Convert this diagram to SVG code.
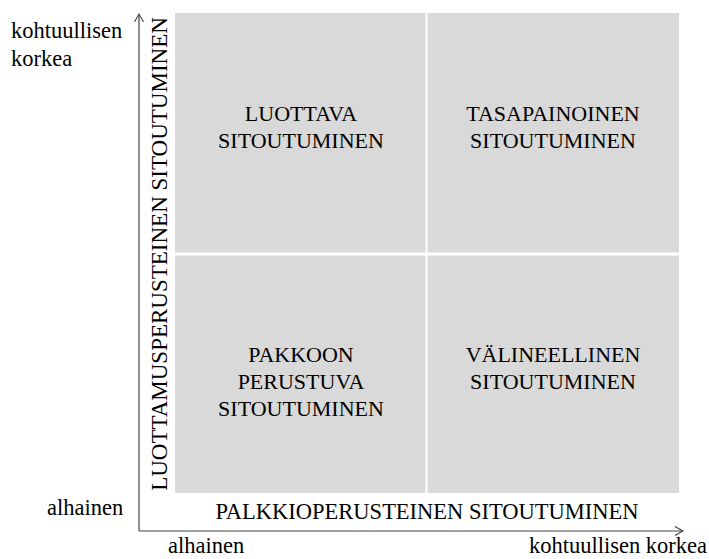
<svg xmlns="http://www.w3.org/2000/svg" width="709" height="559" viewBox="0 0 709 559">
  <defs>
    <style>
      .q { fill: #d9d9d9; }
      .t { font-family: "Liberation Serif", "Times New Roman", serif; font-size: 22px; fill: #000; }
      .a { font-family: "Liberation Serif", "Times New Roman", serif; font-size: 22.5px; fill: #000; }
      .ax { stroke: #444; stroke-width: 1.2; fill: none; }
    </style>
    <marker id="arr" markerWidth="12" markerHeight="12" refX="8" refY="5" orient="auto" markerUnits="userSpaceOnUse">
      <path d="M0,0.5 L8,5 L0,9.5" fill="none" stroke="#444" stroke-width="1.1"/>
    </marker>
  </defs>
  <rect width="709" height="559" fill="#ffffff"/>

  <g id="q-luottava">
    <rect class="q" x="175" y="13" width="250.5" height="239.5"/>
    <text class="t" x="301" y="121" text-anchor="middle">LUOTTAVA</text>
    <text class="t" x="301" y="148" text-anchor="middle">SITOUTUMINEN</text>
  </g>
  <g id="q-tasapainoinen">
    <rect class="q" x="427.5" y="13" width="251.5" height="239.5"/>
    <text class="t" x="553" y="121" text-anchor="middle">TASAPAINOINEN</text>
    <text class="t" x="553" y="148" text-anchor="middle">SITOUTUMINEN</text>
  </g>
  <g id="q-pakkoon">
    <rect class="q" x="175" y="255.5" width="250.5" height="237.5"/>
    <text class="t" x="301" y="362" text-anchor="middle">PAKKOON</text>
    <text class="t" x="301" y="389" text-anchor="middle">PERUSTUVA</text>
    <text class="t" x="301" y="416" text-anchor="middle">SITOUTUMINEN</text>
  </g>
  <g id="q-valineellinen">
    <rect class="q" x="427.5" y="255.5" width="251.5" height="237.5"/>
    <text class="t" x="553" y="362" text-anchor="middle">VÄLINEELLINEN</text>
    <text class="t" x="553" y="389" text-anchor="middle">SITOUTUMINEN</text>
  </g>

  <g id="connectors">
    <line class="ax" x1="139" y1="531" x2="139" y2="14" marker-end="url(#arr)"/>
    <line class="ax" x1="139" y1="531" x2="683" y2="531" marker-end="url(#arr)"/>
  </g>

  <g id="y-axis-label">
    <text class="a" transform="translate(167,254) rotate(-90)" text-anchor="middle" style="font-size:23px">LUOTTAMUSPERUSTEINEN SITOUTUMINEN</text>
  </g>
  <g id="x-axis-label">
    <text class="a" x="427" y="519" text-anchor="middle">PALKKIOPERUSTEINEN SITOUTUMINEN</text>
  </g>
  <g id="y-ticks">
    <text class="a" x="11" y="38">kohtuullisen</text>
    <text class="a" x="11" y="66">korkea</text>
    <text class="a" x="47" y="515">alhainen</text>
  </g>
  <g id="x-ticks">
    <text class="a" x="168" y="553">alhainen</text>
    <text class="a" x="707" y="553" text-anchor="end">kohtuullisen korkea</text>
  </g>
</svg>
